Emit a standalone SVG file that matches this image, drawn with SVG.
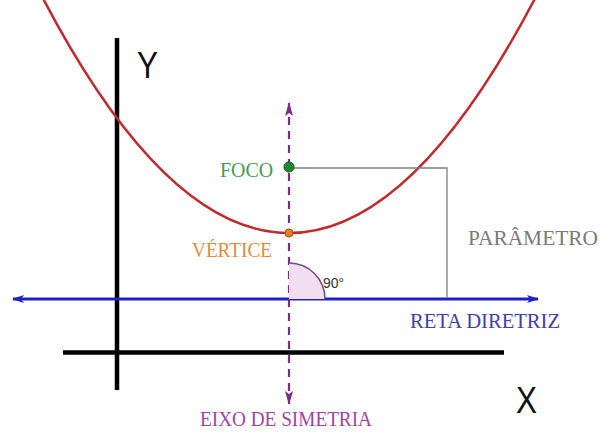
<svg xmlns="http://www.w3.org/2000/svg" width="600" height="432" viewBox="0 0 600 432">
<style>
.lbl{font-family:"Liberation Serif","Times New Roman",serif;font-size:20px}
.ax{font-family:"Liberation Sans",Arial,sans-serif;font-size:36px;fill:#111}
.axis{stroke:#000;stroke-width:4.5;fill:none}
</style>
<defs>
<marker id="bl" viewBox="0 0 12 8" refX="11" refY="4" markerWidth="12" markerHeight="8" markerUnits="userSpaceOnUse" orient="auto-start-reverse"><path d="M0,0 L12,4 L0,8 L3,4 Z" fill="#2020c8"/></marker>
<marker id="pu" viewBox="0 0 14 8" refX="13" refY="4" markerWidth="14" markerHeight="8" markerUnits="userSpaceOnUse" orient="auto-start-reverse"><path d="M0,0 L14,4 L0,8 L3,4 Z" fill="#7d2a8e"/></marker>
</defs>
<rect width="600" height="432" fill="#fff"/>
<g id="axes">
<line class="axis" x1="117" y1="38" x2="117" y2="390"/>
<line class="axis" x1="63" y1="352.5" x2="504" y2="352.5"/>
<text class="ax" x="137" y="78" textLength="21" lengthAdjust="spacingAndGlyphs">Y</text>
<text class="ax" x="516" y="413" textLength="21" lengthAdjust="spacingAndGlyphs">X</text>
</g>
<g id="parabola">
<path d="M29,-29 Q289,495 549,-29" fill="none" stroke="#c3282c" stroke-width="2.5"/>
</g>
<g id="connectors">
<line id="diretriz" x1="13" y1="299" x2="538" y2="299" stroke="#2020c8" stroke-width="3" marker-start="url(#bl)" marker-end="url(#bl)"/>
<polyline id="parametro-line" points="294,168 447,168 447,298" fill="none" stroke="#808080" stroke-width="1.3"/>
<line id="eixo" x1="289" y1="103" x2="289" y2="404" stroke="#7d2a8e" stroke-width="2.2" stroke-dasharray="8,6" marker-start="url(#pu)" marker-end="url(#pu)"/>
</g>
<g id="angulo">
<path d="M289,299 L289,263 A36,36 0 0 1 325,299 Z" fill="#f1def1" stroke="none"/>
<path d="M289,263 A36,36 0 0 1 325,299" fill="none" stroke="#6d4a80" stroke-width="1.5"/>
<text x="323" y="288" font-family="'Liberation Sans',Arial,sans-serif" font-size="14" fill="#333">90°</text>
</g>
<g id="foco">
<circle cx="289" cy="167" r="5" fill="#1b8a2e" stroke="#0e5a1a" stroke-width="1"/>
<text class="lbl" x="220" y="177" fill="#3aa050" textLength="53" lengthAdjust="spacingAndGlyphs">FOCO</text>
</g>
<g id="vertice">
<circle cx="289" cy="233" r="4" fill="#f07a20" stroke="#b04a10" stroke-width="1"/>
<text class="lbl" x="192" y="257" fill="#e88a3c" textLength="80" lengthAdjust="spacingAndGlyphs">VÉRTICE</text>
</g>
<g id="parametro">
<text class="lbl" x="468" y="245" fill="#7a7a7a" textLength="130" lengthAdjust="spacingAndGlyphs">PARÂMETRO</text>
</g>
<g id="reta-diretriz">
<text class="lbl" x="410" y="328" fill="#4040b0" textLength="150" lengthAdjust="spacingAndGlyphs">RETA DIRETRIZ</text>
</g>
<g id="eixo-simetria">
<text class="lbl" x="200" y="426" fill="#a044a8" textLength="172" lengthAdjust="spacingAndGlyphs">EIXO DE SIMETRIA</text>
</g>
</svg>
